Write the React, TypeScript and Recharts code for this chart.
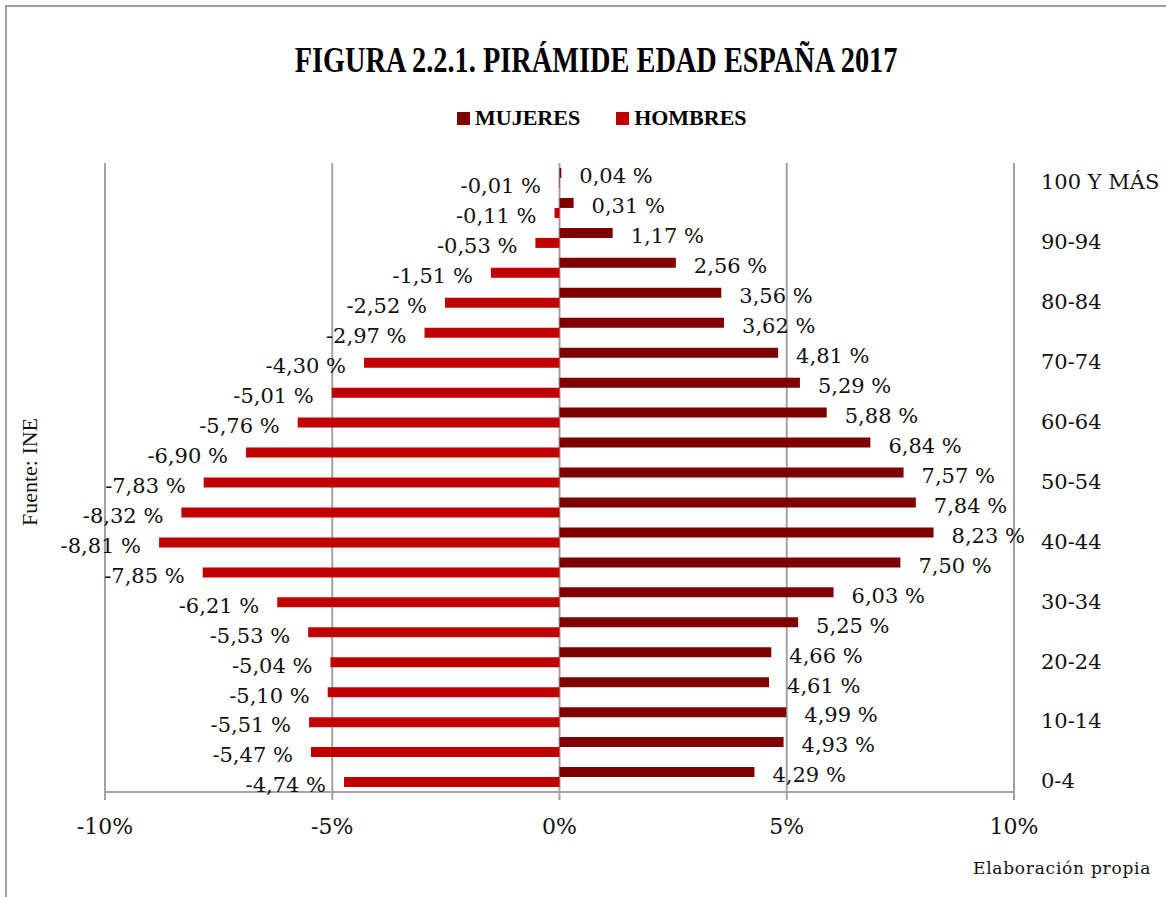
import React from 'react';
import { BarChart, Bar, XAxis, YAxis, CartesianGrid, LabelList } from 'recharts';

const categories = [
  '100 Y MÁS', '95-99', '90-94', '85-89', '80-84', '75-79', '70-74', '65-69', '60-64', '55-59',
  '50-54', '45-49', '40-44', '35-39', '30-34', '25-29', '20-24', '15-19', '10-14', '5-9', '0-4',
];
const mujeres = [
  0.04, 0.31, 1.17, 2.56, 3.56, 3.62, 4.81, 5.29, 5.88, 6.84,
  7.57, 7.84, 8.23, 7.5, 6.03, 5.25, 4.66, 4.61, 4.99, 4.93, 4.29,
];
const hombres = [
  -0.01, -0.11, -0.53, -1.51, -2.52, -2.97, -4.3, -5.01, -5.76, -6.9,
  -7.83, -8.32, -8.81, -7.85, -6.21, -5.53, -5.04, -5.1, -5.51, -5.47, -4.74,
];
const xTicks = [-10, -5, 0, 5, 10];
const seriesNames = { mujeres: 'MUJERES', hombres: 'HOMBRES' };
const seriesColors = { mujeres: '#7f0000', hombres: '#c00000' };
const titleText = 'FIGURA 2.2.1. PIRÁMIDE EDAD ESPAÑA 2017';
const sourceText = 'Fuente: INE';
const creditText = 'Elaboración propia';

const data = categories.map((cat, i) => ({ cat, mujeres: mujeres[i], hombres: hombres[i] }));

const SERIF = '"DejaVu Serif", "Liberation Serif", serif';
const TIMES = '"Liberation Serif", "DejaVu Serif", serif';
const GRID = '#a3a3a3';

const fmt = (v: number) => v.toFixed(2).replace('.', ',') + ' %';

const renderValueLabel = (props: any) => {
  const { x, y, width, height, value } = props;
  const nx = Number(x);
  const nw = Number(width);
  const ny = Number(y);
  const nh = Number(height);
  const left = Math.min(nx, nx + nw);
  const right = Math.max(nx, nx + nw);
  const v = Number(value);
  const neg = v < 0;
  return (
    <text
      x={neg ? left - 18 : right + 18}
      y={ny + nh / 2 + 3}
      dy="0.35em"
      textAnchor={neg ? 'end' : 'start'}
      fontFamily={SERIF}
      fontSize={21}
      fill="#111"
    >
      {fmt(v)}
    </text>
  );
};

const CategoryTick = (props: any) => {
  const { x, y, payload } = props;
  return (
    <text x={x} y={y + 4} dy="0.35em" textAnchor="start" fontFamily={SERIF} fontSize={21} fill="#111">
      {payload.value}
    </text>
  );
};

export default function App() {
  return (
    <div
      style={{
        position: 'absolute',
        left: 0,
        top: 0,
        width: 1166,
        height: 897,
        overflow: 'hidden',
        background: '#fff',
      }}
    >
      <div
        style={{
          position: 'absolute',
          left: 5,
          top: 5,
          width: 1200,
          height: 950,
          borderLeft: '2px solid #9e9e9e',
          borderTop: '2px solid #9e9e9e',
        }}
      />
      <div
        style={{
          position: 'absolute',
          left: 0,
          top: 43,
          width: 1193,
          textAlign: 'center',
          fontFamily: TIMES,
          fontWeight: 'bold',
          fontSize: 35,
          lineHeight: '35px',
          whiteSpace: 'nowrap',
          color: '#000',
        }}
      >
        <span style={{ display: 'inline-block', transform: 'scaleX(0.81)' }}>{titleText}</span>
      </div>
      <div
        style={{
          position: 'absolute',
          left: 457,
          top: 106,
          height: 24,
          display: 'flex',
          alignItems: 'center',
          fontFamily: TIMES,
          fontWeight: 'bold',
          fontSize: 22,
          color: '#000',
          whiteSpace: 'nowrap',
        }}
      >
        {(['mujeres', 'hombres'] as const).map((k, i) => (
          <div key={k} style={{ display: 'flex', alignItems: 'center', marginLeft: i === 0 ? 0 : 36 }}>
            <span
              style={{ display: 'inline-block', width: 13, height: 13, background: seriesColors[k], marginRight: 5 }}
            />
            <span>{seriesNames[k]}</span>
          </div>
        ))}
      </div>
      <div
        style={{
          position: 'absolute',
          left: 30,
          top: 472,
          transform: 'translate(-50%, -50%) rotate(-90deg)',
          fontFamily: TIMES,
          fontSize: 22,
          whiteSpace: 'nowrap',
          color: '#111',
        }}
      >
        {sourceText}
      </div>
      <div
        style={{
          position: 'absolute',
          left: 973,
          top: 858,
          fontFamily: SERIF,
          fontSize: 17,
          letterSpacing: 0.75,
          whiteSpace: 'nowrap',
          color: '#111',
        }}
      >
        {creditText}
      </div>
      <div style={{ position: 'absolute', left: 0, top: 0 }}>
        <BarChart
          width={1166}
          height={897}
          data={data}
          layout="vertical"
          margin={{ top: 163, right: 12, bottom: 45, left: 105 }}
          barCategoryGap={5}
          barGap={0}
        >
          <CartesianGrid horizontal={false} vertical stroke={GRID} strokeWidth={2} />
          <XAxis
            type="number"
            domain={[-10, 10]}
            ticks={xTicks}
            allowDataOverflow
            tickFormatter={(v: number) => `${v}%`}
            height={60}
            axisLine={{ stroke: GRID, strokeWidth: 2 }}
            tickLine={{ stroke: GRID, strokeWidth: 2 }}
            tickSize={8}
            tickMargin={18}
            tick={{ fontFamily: SERIF, fontSize: 22, fill: '#111' }}
          />
          <YAxis
            type="category"
            dataKey="cat"
            orientation="right"
            width={140}
            axisLine={false}
            tickLine={false}
            tickSize={0}
            tickMargin={27}
            interval={1}
            tick={<CategoryTick />}
          />
          <Bar dataKey="mujeres" name={seriesNames.mujeres} fill={seriesColors.mujeres} isAnimationActive={false}>
            <LabelList dataKey="mujeres" content={renderValueLabel} />
          </Bar>
          <Bar dataKey="hombres" name={seriesNames.hombres} fill={seriesColors.hombres} isAnimationActive={false}>
            <LabelList dataKey="hombres" content={renderValueLabel} />
          </Bar>
        </BarChart>
      </div>
    </div>
  );
}
